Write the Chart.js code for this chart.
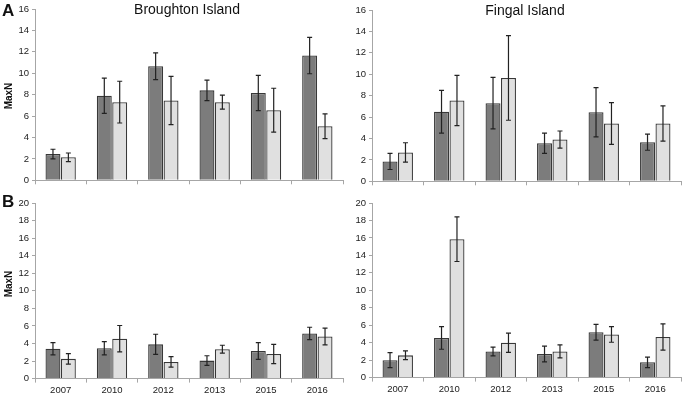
<!DOCTYPE html>
<html>
<head>
<meta charset="utf-8">
<script src="https://cdn.jsdelivr.net/npm/chart.js@4"></script>
<style>
  body { margin: 0; background: #fff; }
  #wrap { position: relative; width: 686px; height: 394px; overflow: hidden; font-family: "Liberation Sans", Arial, sans-serif; }
  .panel { position: absolute; }
  .lbl { position: absolute; color: #111; white-space: nowrap; }
  .title { font-size: 14px; transform: translateX(-50%); }
  .letter { font-size: 17px; font-weight: bold; }
  .axis { font-size: 10px; font-weight: bold; transform: translate(-50%, -50%) rotate(-90deg); }
</style>
</head>
<body>
<div id="wrap">
  <div class="panel" style="left:0;top:0;width:345px;height:189px"><canvas id="cA1"></canvas></div>
  <div class="panel" style="left:337px;top:0;width:346px;height:190px"><canvas id="cA2"></canvas></div>
  <div class="panel" style="left:0;top:190px;width:345px;height:208px"><canvas id="cB1"></canvas></div>
  <div class="panel" style="left:337px;top:190px;width:346px;height:208px"><canvas id="cB2"></canvas></div>
  <div class="lbl letter" style="left:2px;top:1px">A</div>
  <div class="lbl letter" style="left:2px;top:192px">B</div>
  <div class="lbl axis" style="left:8px;top:96px">MaxN</div>
  <div class="lbl axis" style="left:8px;top:284px">MaxN</div>
  <div class="lbl title" style="left:187px;top:1px">Broughton Island</div>
  <div class="lbl title" style="left:525px;top:2px">Fingal Island</div>
</div>
<script>
"use strict";
const years = ['2007', '2010', '2012', '2013', '2015', '2016'];

// A - Broughton Island
const broughtonA_dark = [2.45, 7.9, 10.65, 8.4, 8.15, 11.65];
const broughtonA_darkErr = [0.45, 1.65, 1.25, 0.95, 1.65, 1.7];
const broughtonA_light = [2.15, 7.3, 7.45, 7.3, 6.55, 5.05];
const broughtonA_lightErr = [0.4, 1.95, 2.25, 0.65, 2.05, 1.15];

// A - Fingal Island
const fingalA_dark = [1.85, 6.5, 7.3, 3.55, 6.45, 3.65];
const fingalA_darkErr = [0.75, 2.0, 2.4, 0.95, 2.3, 0.75];
const fingalA_light = [2.7, 7.55, 9.65, 3.9, 5.4, 5.4];
const fingalA_lightErr = [0.9, 2.35, 3.95, 0.8, 1.95, 1.65];

// B - Broughton Island
const broughtonB_dark = [3.4, 3.45, 3.9, 2.05, 3.15, 5.15];
const broughtonB_darkErr = [0.7, 0.75, 1.15, 0.55, 0.95, 0.7];
const broughtonB_light = [2.25, 4.55, 1.9, 3.35, 2.8, 4.8];
const broughtonB_lightErr = [0.6, 1.5, 0.6, 0.45, 1.1, 0.95];

// B - Fingal Island
const fingalB_dark = [2.0, 4.55, 3.0, 2.7, 5.2, 1.75];
const fingalB_darkErr = [0.85, 1.3, 0.5, 0.9, 0.9, 0.6];
const fingalB_light = [2.55, 15.85, 4.0, 3.0, 4.95, 4.65];
const fingalB_lightErr = [0.5, 2.55, 1.1, 0.75, 0.9, 1.5];

const yTicksA = [0, 2, 4, 6, 8, 10, 12, 14, 16];
const yTicksB = [0, 2, 4, 6, 8, 10, 12, 14, 16, 18, 20];

const DARK = '#7c7c7c', LIGHT = '#e0e0e0', EDGE = '#383838', AXIS = '#a6a6a6';

// error bars, drawn from the y scale of each chart
const errorBars = {
    id: 'errorBars',
    afterDatasetsDraw(chart) {
        const ctx = chart.ctx;
        const y = chart.scales.y;
        ctx.save();
        ctx.strokeStyle = '#222';
        ctx.lineWidth = 1.2;
        chart.data.datasets.forEach((ds, i) => {
            chart.getDatasetMeta(i).data.forEach((bar, j) => {
                const v = ds.data[j], e = ds.errors[j];
                const top = y.getPixelForValue(v + e), bot = y.getPixelForValue(v - e);
                ctx.beginPath();
                ctx.moveTo(bar.x, top); ctx.lineTo(bar.x, bot);
                ctx.moveTo(bar.x - 2.5, top); ctx.lineTo(bar.x + 2.5, top);
                ctx.moveTo(bar.x - 2.5, bot); ctx.lineTo(bar.x + 2.5, bot);
                ctx.stroke();
            });
        });
        ctx.restore();
    }
};

function makeChart(id, dark, darkErr, light, lightErr, yTicks, showX, padTop, padBottom) {
    const yMax = yTicks[yTicks.length - 1];
    return new Chart(document.getElementById(id), {
        type: 'bar',
        data: {
            labels: years,
            datasets: [
                { data: dark, errors: darkErr, backgroundColor: DARK, borderColor: EDGE, borderWidth: 1.3 },
                { data: light, errors: lightErr, backgroundColor: LIGHT, borderColor: EDGE, borderWidth: 1.3 }
            ]
        },
        options: {
            responsive: true, maintainAspectRatio: false, animation: false,
            categoryPercentage: 0.6, barPercentage: 0.97,
            layout: { padding: { top: padTop, right: 2, bottom: padBottom, left: 0 } },
            plugins: { legend: { display: false }, tooltip: { enabled: false } },
            scales: {
                x: {
                    grid: { drawOnChartArea: false, color: AXIS, tickLength: 4 },
                    border: { color: AXIS },
                    ticks: { display: showX, color: '#222', font: { family: 'Liberation Sans', size: 9.5 }, padding: 2, maxRotation: 0 }
                },
                y: {
                    min: 0, max: yMax,
                    afterFit: s => { s.width = 35; },
                    afterBuildTicks: s => { s.ticks = yTicks.map(v => ({ value: v })); },
                    grid: { drawOnChartArea: false, color: AXIS, tickLength: 3 },
                    border: { color: AXIS },
                    ticks: { color: '#222', font: { family: 'Liberation Sans', size: 9.5 }, padding: 3 }
                }
            }
        },
        plugins: [errorBars]
    });
}

makeChart('cA1', broughtonA_dark, broughtonA_darkErr, broughtonA_light, broughtonA_lightErr, yTicksA, false, 9, 2);
makeChart('cA2', fingalA_dark, fingalA_darkErr, fingalA_light, fingalA_lightErr, yTicksA, false, 10, 2);
makeChart('cB1', broughtonB_dark, broughtonB_darkErr, broughtonB_light, broughtonB_lightErr, yTicksB, true, 13, 0);
makeChart('cB2', fingalB_dark, fingalB_darkErr, fingalB_light, fingalB_lightErr, yTicksB, true, 13, 1);
</script>
</body>
</html>
